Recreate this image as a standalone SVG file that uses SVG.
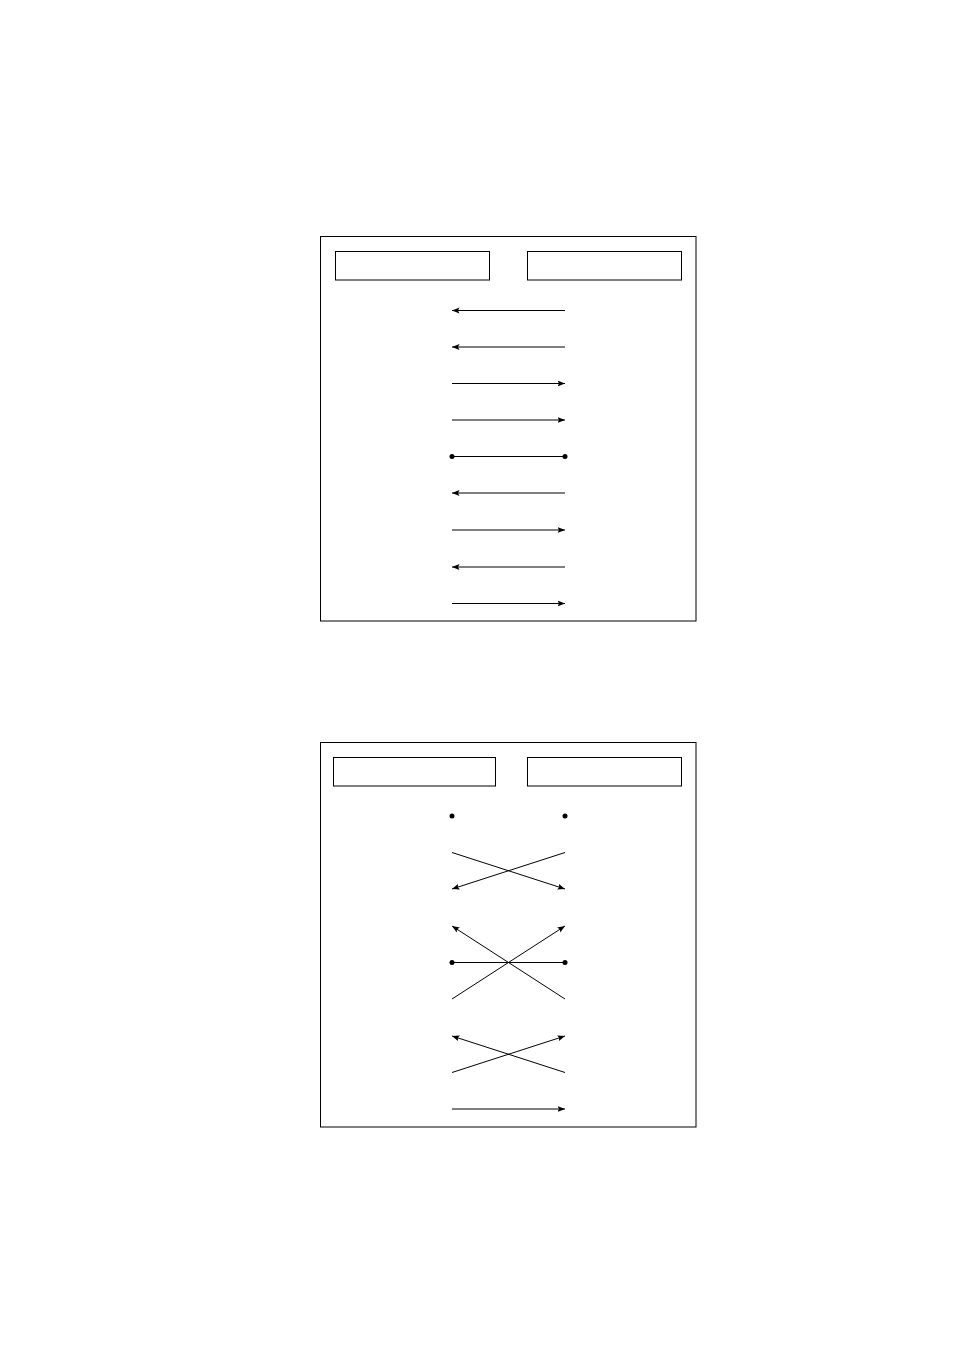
<svg xmlns="http://www.w3.org/2000/svg" width="954" height="1350" viewBox="0 0 954 1350">
<style>
.frame{fill:#fff;stroke:#000;stroke-width:1}
.box{fill:#fff;stroke:#000;stroke-width:1}
.c{stroke:#000;stroke-width:1;fill:none}
.a{marker-end:url(#ah)}
.dot{fill:#000}
</style>
<defs>
<marker id="ah" markerUnits="userSpaceOnUse" markerWidth="9" markerHeight="7" refX="7.5" refY="3" orient="auto" viewBox="0 0 9 6">
<path d="M0,0 L7.5,3 L0,6 L1.5,3 z" fill="#000"/>
</marker>
</defs>
<rect width="954" height="1350" fill="#fff"/>
<g id="panel1">
<rect class="frame" x="320.5" y="236.5" width="375.5" height="384.5"/>
<g id="p1-left"><rect class="box" x="335.5" y="251.5" width="154" height="28.5"/></g>
<g id="p1-right"><rect class="box" x="527.5" y="251.5" width="154" height="28.5"/></g>
</g>
<g id="panel2">
<rect class="frame" x="320.5" y="742.5" width="375.5" height="384.5"/>
<g id="p2-left"><rect class="box" x="333.5" y="757.5" width="162" height="28.5"/></g>
<g id="p2-right"><rect class="box" x="527.5" y="757.5" width="154" height="28.5"/></g>
</g>
<g id="connectors">
<line class="c a" x1="565" y1="310.5" x2="452" y2="310.5"/>
<line class="c a" x1="565" y1="347" x2="452" y2="347"/>
<line class="c a" x1="452" y1="383.5" x2="565" y2="383.5"/>
<line class="c a" x1="452" y1="420" x2="565" y2="420"/>
<line class="c" x1="452" y1="456.5" x2="565" y2="456.5"/>
<circle class="dot" cx="452" cy="456.5" r="2.5"/>
<circle class="dot" cx="565" cy="456.5" r="2.5"/>
<line class="c a" x1="565" y1="493" x2="452" y2="493"/>
<line class="c a" x1="452" y1="530" x2="565" y2="530"/>
<line class="c a" x1="565" y1="567" x2="452" y2="567"/>
<line class="c a" x1="452" y1="603.5" x2="565" y2="603.5"/>

<circle class="dot" cx="452" cy="816" r="2.5"/>
<circle class="dot" cx="565" cy="816" r="2.5"/>
<line class="c a" x1="452" y1="852.5" x2="565" y2="889"/>
<line class="c a" x1="565" y1="852.5" x2="452" y2="889"/>
<line class="c a" x1="565" y1="999" x2="452" y2="926"/>
<line class="c a" x1="452" y1="999" x2="565" y2="926"/>
<line class="c" x1="452" y1="962.5" x2="565" y2="962.5"/>
<circle class="dot" cx="452" cy="962.5" r="2.5"/>
<circle class="dot" cx="565" cy="962.5" r="2.5"/>
<line class="c a" x1="565" y1="1072.5" x2="452" y2="1036"/>
<line class="c a" x1="452" y1="1072.5" x2="565" y2="1036"/>
<line class="c a" x1="452" y1="1109" x2="565" y2="1109"/>
</g>
</svg>
